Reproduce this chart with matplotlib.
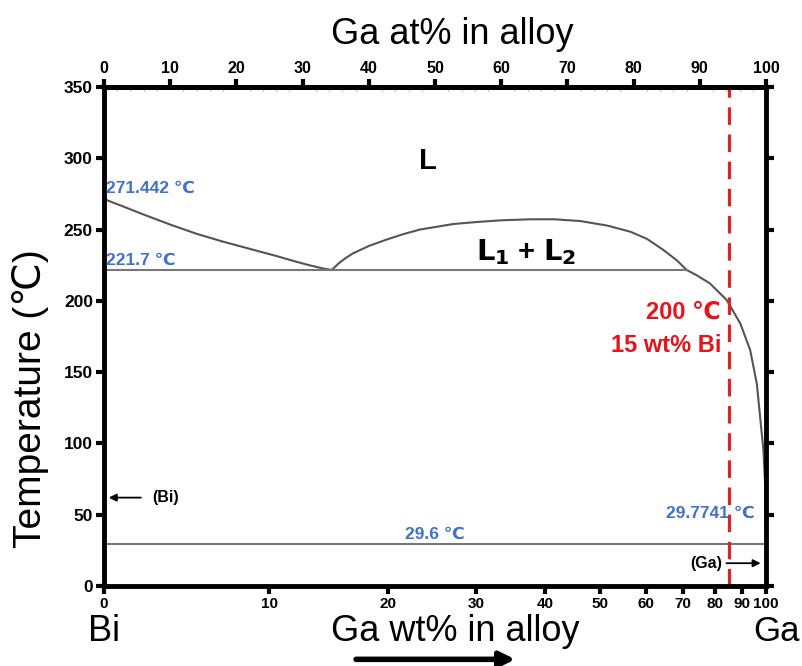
import numpy as np
import matplotlib.pyplot as plt
from matplotlib.patches import FancyArrowPatch

plt.rcParams['font.family'] = ['Liberation Sans', 'DejaVu Sans']

# Bi-Ga phase diagram data (x in at% Ga, T in degC)
bi_liq_at = [0, 3, 6, 10, 14, 18, 22, 26, 29, 31, 33, 34.4]
bi_liq_t = [271.4, 266, 260.5, 253.5, 247, 241.5, 236.5, 231.5, 227.5, 225, 222.8, 221.7]

dome_at = [34.4, 35.5, 36.5, 37.6, 40, 42.7, 45, 47.7, 52.8, 56.3, 60, 64.4, 68,
           71.9, 76, 79.5, 82, 84.4, 86.5, 88]
dome_t = [221.7, 226.5, 230, 233.3, 238.5, 243, 246.5, 250, 253.9, 255.3, 256.5, 257.2, 257.2,
          256, 252.8, 248.5, 243.5, 236, 228.5, 221.7]

ga_liq_at = [88, 89.5, 91.5, 94.05, 96.1, 97.6, 98.6, 99.1, 99.6, 99.85, 100]
ga_liq_t = [221.7, 218, 212.3, 200.6, 184.2, 165.5, 142, 118.7, 95.4, 72, 29.77]

monotectic_t = 221.7
monotectic_at = [0, 88]
eutectic_t = 29.6
marker_wt = 85  # wt% Ga (15 wt% Bi)

at_ticks = list(range(0, 101, 10))
wt_ticks = [0, 10, 20, 30, 40, 50, 60, 70, 80, 90, 100]
t_ticks = list(range(0, 351, 50))

M_GA, M_BI = 69.723, 208.98


def wt_to_at(w):
    w = np.asarray(w, dtype=float)
    n_ga = w / M_GA
    n_bi = (100 - w) / M_BI
    return 100 * n_ga / (n_ga + n_bi)


fig = plt.figure(figsize=(8.03, 6.66), dpi=100)
ax = fig.add_axes([0.1295, 0.1201, 0.8245, 0.7493])

line_c = '#555555'
ax.plot(bi_liq_at, bi_liq_t, color=line_c, lw=1.5)
ax.plot(dome_at, dome_t, color=line_c, lw=1.5)
ax.plot(ga_liq_at, ga_liq_t, color=line_c, lw=1.5)
ax.plot(monotectic_at, [monotectic_t] * 2, color='#777777', lw=1.5)
ax.plot([0, 100], [eutectic_t] * 2, color='#777777', lw=1.5)
ax.axvline(float(wt_to_at(marker_wt)), color='#d62728', lw=2.3, ls=(0, (5.5, 3)))

ax.set_xlim(0, 100)
ax.set_ylim(0, 350)

for s in ax.spines.values():
    s.set_linewidth(3.5)

ax.set_yticks(t_ticks)
ax.set_yticklabels([str(t) for t in t_ticks], fontweight='bold', fontsize=12.5)
ax.set_xticks(wt_to_at(wt_ticks))
ax.set_xticklabels([str(w) for w in wt_ticks], fontweight='bold', fontsize=11)
ax.tick_params(axis='both', direction='out', length=6, width=3, pad=2)
ax.tick_params(axis='y', right=True, labelright=False)

sec = ax.secondary_xaxis('top')
sec.set_xticks(at_ticks)
sec.set_xticklabels([str(a) for a in at_ticks], fontweight='bold', fontsize=11.5)
sec.tick_params(direction='out', length=6, width=3, pad=2)
sec.set_xticks(np.arange(0, 101, 2), minor=True)
sec.tick_params(which='minor', direction='in', length=3, width=0.8, color='#aaaaaa')
sec.spines['top'].set_linewidth(3.5)
fig.text(452 / 803, 1 - 35 / 666, 'Ga at% in alloy', fontsize=26, ha='center', va='center')

ax.set_ylabel('Temperature (℃)', fontsize=28)
ax.yaxis.set_label_coords(-0.083, 0.375)

blue = '#4472C4'
ax.text(0.3, 276, '271.442 ℃', color=blue, fontsize=12.5, fontweight='bold')
ax.text(0.3, 225, '221.7 ℃', color=blue, fontsize=12.5, fontweight='bold')
ax.text(50, 33, '29.6 ℃', color=blue, fontsize=12.5, fontweight='bold', ha='center')
ax.text(98.3, 48, '29.7741 ℃', color=blue, fontsize=12.5, fontweight='bold', ha='right')

ax.text(49, 298, 'L', fontsize=21, fontweight='bold', ha='center', va='center')
ax.text(63.8, 234, r'$\mathbf{L_1}$ + $\mathbf{L_2}$', fontsize=21, fontweight='bold',
        ha='center', va='center')

ax.text(93.2, 192, '200 ℃', color='#e3141c', fontsize=17, fontweight='bold', ha='right', va='center')
ax.text(93.2, 169, '15 wt% Bi', color='#e3141c', fontsize=17, fontweight='bold', ha='right', va='center')

ax.annotate('', xy=(0.3, 62), xytext=(6, 62),
            arrowprops=dict(arrowstyle='-|>', color='black', lw=1.3, mutation_scale=11))
ax.text(7.3, 62, '(Bi)', fontsize=11.5, fontweight='bold', va='center')
ax.annotate('', xy=(99.6, 16), xytext=(93.6, 16),
            arrowprops=dict(arrowstyle='-|>', color='black', lw=1.3, mutation_scale=11))
ax.text(93.3, 16, '(Ga)', fontsize=11.5, fontweight='bold', va='center', ha='right')

fig.text(0.1295, 0.052, 'Bi', fontsize=26, ha='center', va='center')
fig.text(0.567, 0.052, 'Ga wt% in alloy', fontsize=26, ha='center', va='center')
fig.text(0.996, 0.052, 'Ga', fontsize=25, ha='right', va='center')
fig.add_artist(FancyArrowPatch(
    (0.44, 0.01), (0.645, 0.01), transform=fig.transFigure,
    arrowstyle='-|>', mutation_scale=22, lw=4, color='black'))

fig.savefig('out.png', dpi=100)
